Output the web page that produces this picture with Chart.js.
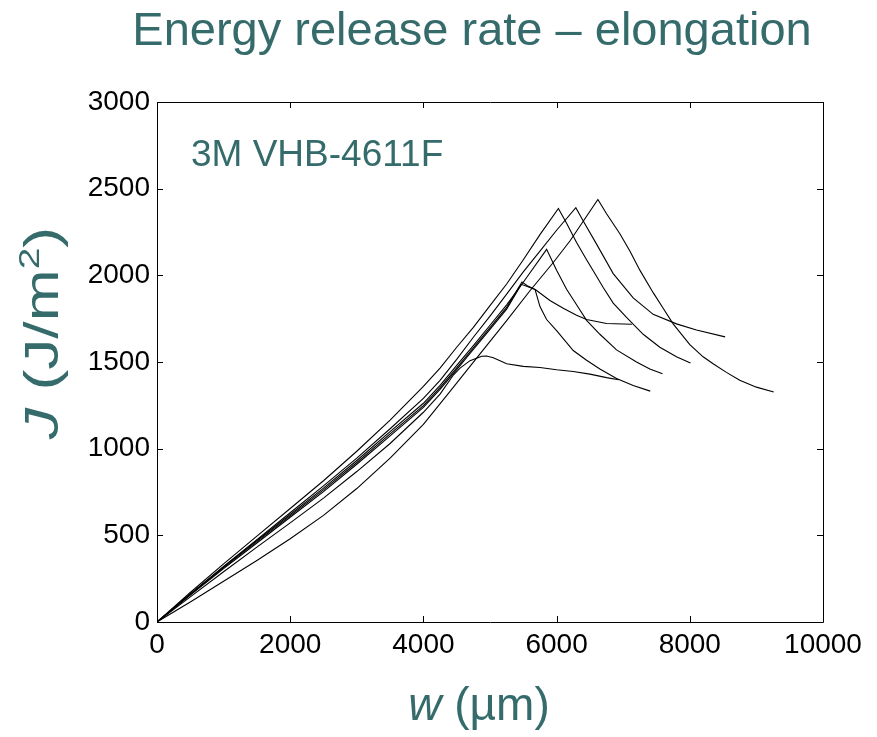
<!DOCTYPE html>
<html>
<head>
<meta charset="utf-8">
<script src="https://cdn.jsdelivr.net/npm/chart.js@4.4.0/dist/chart.umd.min.js"></script>
<style>
  html, body { margin: 0; padding: 0; background: #fff; }
  #wrap { position: relative; width: 877px; height: 737px; }
</style>
</head>
<body>
<div id="wrap"><canvas id="jChart" width="877" height="737"></canvas></div>
<script>
// axis ticks
const xTicks = [0, 2000, 4000, 6000, 8000, 10000];
const yTicks = [0, 500, 1000, 1500, 2000, 2500, 3000];

// seven test runs, w in um and J in J/m2
const wA = [0, 500, 1000, 1500, 2000, 2500, 3000, 3500, 4000, 4250, 4500, 4750, 5000, 5250, 5500, 5750, 6027, 6150, 6300, 6450, 6550, 6700, 6850, 7050, 7300, 7550, 7800, 8010];
const jA = [0, 170, 335, 495, 655, 815, 985, 1165, 1360, 1465, 1585, 1700, 1825, 1950, 2090, 2235, 2386, 2300, 2190, 2090, 2026, 1930, 1840, 1757, 1660, 1585, 1530, 1494];

const wB = [0, 500, 1000, 1500, 2000, 2500, 3000, 3500, 4000, 4250, 4500, 4750, 5000, 5250, 5500, 5750, 6000, 6289, 6400, 6600, 6850, 7150, 7450, 7800, 8100, 8530];
const jB = [0, 160, 320, 475, 630, 785, 945, 1115, 1290, 1394, 1515, 1643, 1765, 1892, 2020, 2140, 2260, 2390, 2313, 2180, 2010, 1870, 1775, 1720, 1685, 1645];

const wC = [0, 500, 1000, 1500, 2000, 2500, 3000, 3500, 4000, 4400, 4850, 5250, 5600, 5950, 6200, 6620, 6750, 6950, 7100, 7250, 7450, 7600, 7750, 8000, 8200, 8350, 8550, 8750, 9000, 9260];
const jC = [0, 115, 235, 355, 480, 615, 770, 945, 1140, 1330, 1547, 1739, 1911, 2074, 2198, 2438, 2355, 2240, 2140, 2030, 1900, 1810, 1720, 1600, 1530, 1490, 1440, 1395, 1355, 1327];

const wD = [0, 500, 1000, 1500, 2000, 2500, 3000, 3500, 4000, 4250, 4500, 4750, 5000, 5250, 5500, 5850, 5900, 6000, 6150, 6300, 6450, 6650, 6900, 7200, 7400, 7590];
const jD = [0, 162, 318, 470, 620, 772, 932, 1098, 1262, 1365, 1480, 1595, 1712, 1830, 1960, 2150, 2110, 2030, 1920, 1830, 1740, 1660, 1570, 1500, 1460, 1432];

const wE = [0, 500, 1000, 1500, 2000, 2500, 3000, 3500, 4000, 4250, 4500, 4750, 5000, 5250, 5480, 5560, 5680, 5900, 6100, 6300, 6450, 6750, 7130];
const jE = [0, 158, 314, 464, 612, 762, 920, 1085, 1248, 1352, 1466, 1582, 1698, 1815, 1962, 1940, 1918, 1855, 1810, 1770, 1745, 1722, 1718];

const wG = [0, 500, 1000, 1500, 2000, 2500, 3000, 3500, 4000, 4250, 4500, 4750, 5000, 5250, 5470, 5560, 5677, 5750, 5850, 6000, 6250, 6450, 6650, 6900, 7150, 7406];
const jG = [0, 155, 308, 456, 604, 752, 910, 1074, 1238, 1342, 1456, 1572, 1688, 1805, 1948, 1935, 1918, 1820, 1745, 1681, 1566, 1510, 1460, 1405, 1365, 1332];

const wF = [0, 500, 1000, 1500, 2000, 2500, 3000, 3500, 4000, 4250, 4450, 4550, 4700, 4875, 4950, 5050, 5250, 5500, 5750, 6000, 6250, 6500, 6750, 6930];
const jF = [0, 145, 290, 432, 572, 715, 868, 1030, 1210, 1315, 1425, 1465, 1508, 1533, 1535, 1525, 1490, 1475, 1468, 1455, 1445, 1430, 1410, 1398];

const runs = [[wA, jA], [wB, jB], [wC, jC], [wD, jD], [wE, jE], [wG, jG], [wF, jF]];

const teal = '#356b6b';
const font = '"Liberation Sans", Arial, sans-serif';

// box, inward ticks and the slide texts
const decor = {
  id: 'decor',
  afterDraw(chart) {
    const ctx = chart.ctx;
    const a = chart.chartArea;
    const xs = chart.scales.x, ys = chart.scales.y;
    ctx.save();
    ctx.strokeStyle = '#000';
    ctx.lineWidth = 1;
    ctx.beginPath();
    ctx.rect(Math.round(a.left) + 0.5, Math.round(a.top) + 0.5, Math.round(a.right - a.left), Math.round(a.bottom - a.top));
    const t = 6;
    xTicks.forEach(v => {
      const px = Math.round(xs.getPixelForValue(v)) + 0.5;
      ctx.moveTo(px, a.bottom); ctx.lineTo(px, a.bottom - t);
      ctx.moveTo(px, a.top); ctx.lineTo(px, a.top + t);
    });
    yTicks.forEach(v => {
      const py = Math.round(ys.getPixelForValue(v)) + 0.5;
      ctx.moveTo(a.left, py); ctx.lineTo(a.left + t, py);
      ctx.moveTo(a.right, py); ctx.lineTo(a.right - t, py);
    });
    ctx.stroke();

    ctx.fillStyle = teal;
    // title
    ctx.font = '47px ' + font;
    ctx.textAlign = 'center';
    ctx.textBaseline = 'alphabetic';
    ctx.fillText('Energy release rate \u2013 elongation', 472, 45);

    // sample name
    ctx.font = '37px ' + font;
    ctx.textAlign = 'left';
    ctx.fillText('3M VHB-4611F', 191, 166);

    // x label: w (um)
    ctx.font = 'italic 46px ' + font;
    const p1 = 'w', p2 = ' (\u00b5m)';
    const w1 = ctx.measureText(p1).width;
    ctx.font = '46px ' + font;
    const w2 = ctx.measureText(p2).width;
    let x0 = 479 - (w1 + w2) / 2;
    ctx.font = 'italic 46px ' + font;
    ctx.fillText(p1, x0, 720);
    ctx.font = '46px ' + font;
    ctx.fillText(p2, x0 + w1, 720);

    // y label: J (J/m^2), a little stretched like the slide
    ctx.translate(58, 333);
    ctx.rotate(-Math.PI / 2);
    ctx.scale(1.3, 1);
    const parts = [['J', 'italic 48px', 0], [' (J/m', '48px', 0], ['2', '30px', -19], [')', '48px', 0]];
    let total = 0;
    parts.forEach(p => { ctx.font = p[1] + ' ' + font; total += ctx.measureText(p[0]).width; });
    let cx = -total / 2;
    parts.forEach(p => {
      ctx.font = p[1] + ' ' + font;
      ctx.fillText(p[0], cx, p[2]);
      cx += ctx.measureText(p[0]).width;
    });
    ctx.restore();
  }
};

new Chart(document.getElementById('jChart'), {
  type: 'scatter',
  data: {
    datasets: runs.map(r => ({
      data: r[0].map((w, i) => ({ x: w, y: r[1][i] })),
      showLine: true,
      borderColor: '#000',
      borderWidth: 1.1,
      pointRadius: 0,
      tension: 0
    }))
  },
  options: {
    responsive: false,
    animation: false,
    layout: { padding: { left: 0, right: 54, top: 102, bottom: 0 } },
    plugins: { legend: { display: false }, tooltip: { enabled: false } },
    scales: {
      x: {
        min: 0, max: 10000,
        afterBuildTicks: s => { s.ticks = xTicks.map(v => ({ value: v })); },
        afterFit: s => { s.height = 115; },
        grid: { display: false, drawTicks: false },
        border: { display: false },
        ticks: { color: '#000', font: { family: font, size: 28 }, padding: 6, maxRotation: 0, callback: v => String(v) }
      },
      y: {
        min: 0, max: 3000,
        afterBuildTicks: s => { s.ticks = yTicks.map(v => ({ value: v })); },
        afterFit: s => { s.width = 157; },
        grid: { display: false, drawTicks: false },
        border: { display: false },
        ticks: { color: '#000', font: { family: font, size: 28 }, padding: 7, callback: v => String(v) }
      }
    }
  },
  plugins: [decor]
});
</script>
</body>
</html>
